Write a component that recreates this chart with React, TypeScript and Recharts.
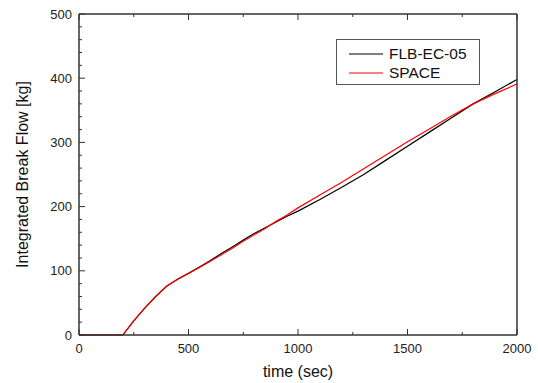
import React from 'react';
import { LineChart, Line, XAxis, YAxis, Legend, Label } from 'recharts';

const times = [0, 200, 250, 300, 350, 400, 450, 500, 550, 600, 650, 700, 750, 800, 850, 900, 950, 1000, 1100, 1200, 1300, 1400, 1500, 1600, 1700, 1800, 1900, 2000];
const flbEc05 = [0, 0, 22, 42, 60, 76, 87, 96, 106, 116, 127, 137, 148, 158, 167, 176, 185, 193, 211, 230, 250, 272, 294, 316, 338, 360, 379, 398];
const spaceSeries = [0, 0, 22, 42, 60, 76, 87, 96, 105, 115, 125, 135, 146, 156, 166, 177, 187, 198, 218, 238, 259, 280, 301, 321, 341, 360, 376, 391];

const xTicks = [0, 250, 500, 750, 1000, 1250, 1500, 1750, 2000];
const xMajor = 500;
const yTicks = [0, 20, 40, 60, 80, 100, 120, 140, 160, 180, 200, 220, 240, 260, 280, 300, 320, 340, 360, 380, 400, 420, 440, 460, 480, 500];
const yMajor = 100;

const seriesNames = ['FLB-EC-05', 'SPACE'];
const xTitle = 'time (sec)';
const yTitle = 'Integrated Break Flow [kg]';

const data = times.map((t, i) => ({ t, a: flbEc05[i], b: spaceSeries[i] }));

const FONT = '"Liberation Sans", Arial, sans-serif';
const AXIS = '#333';
const MAJ = 6;
const MIN = 3;

const renderBottomTick = (p: any) => {
  const { x, y, payload } = p;
  const major = payload.value % xMajor === 0;
  return (
    <g key={`b${payload.value}`}>
      <line x1={x} x2={x} y1={y} y2={y - (major ? MAJ : MIN)} stroke={AXIS} strokeWidth={1} />
      {major && (
        <text x={x} y={y + 18} textAnchor="middle" fontSize={13} fontFamily={FONT} fill="#222">
          {payload.value}
        </text>
      )}
    </g>
  );
};

const renderTopTick = (p: any) => {
  const { x, y, payload } = p;
  const major = payload.value % xMajor === 0;
  return (
    <line key={`t${payload.value}`} x1={x} x2={x} y1={y} y2={y + (major ? MAJ : MIN)} stroke={AXIS} strokeWidth={1} />
  );
};

const renderLeftTick = (p: any) => {
  const { x, y, payload } = p;
  const major = payload.value % yMajor === 0;
  return (
    <g key={`l${payload.value}`}>
      <line x1={x} x2={x + (major ? MAJ : MIN)} y1={y} y2={y} stroke={AXIS} strokeWidth={1} />
      {major && (
        <text x={x - 7} y={y + 4.5} textAnchor="end" fontSize={13} fontFamily={FONT} fill="#222">
          {payload.value}
        </text>
      )}
    </g>
  );
};

const renderRightTick = (p: any) => {
  const { x, y, payload } = p;
  const major = payload.value % yMajor === 0;
  return (
    <line key={`r${payload.value}`} x1={x} x2={x - (major ? MAJ : MIN)} y1={y} y2={y} stroke={AXIS} strokeWidth={1} />
  );
};

const LegendBox = (props: any) => {
  const { payload } = props;
  return (
    <div
      style={{
        width: 144,
        height: 46,
        boxSizing: 'border-box',
        border: '1px solid #555',
        background: '#fff',
        paddingTop: 4,
        fontFamily: FONT,
        fontSize: 15.5,
        color: '#111',
      }}
    >
      {(payload || []).map((e: any) => (
        <div key={e.value} style={{ display: 'flex', alignItems: 'center', height: 19, lineHeight: '19px' }}>
          <svg width={34} height={4} style={{ marginLeft: 12, marginRight: 6 }}>
            <line x1={0} x2={34} y1={2} y2={2} stroke={e.color} strokeWidth={1.2} />
          </svg>
          <span>{e.value}</span>
        </div>
      ))}
    </div>
  );
};

export default function App() {
  return (
    <div style={{ position: 'absolute', left: 0, top: 0, background: '#fff' }}>
      <LineChart width={538} height={383} data={data} margin={{ top: 13, right: 20, bottom: 0, left: 0 }}>
        <XAxis
          xAxisId="bottom"
          dataKey="t"
          type="number"
          domain={[0, 2000]}
          ticks={xTicks}
          interval={0}
          height={48}
          tickSize={0}
          tickMargin={0}
          tickLine={false}
          tick={renderBottomTick}
          axisLine={{ stroke: AXIS, strokeWidth: 1.5 }}
        >
          <Label
            content={(lp: any) => {
              const vb = lp.viewBox;
              return (
                <text x={vb.x + vb.width / 2} y={vb.y + 42} textAnchor="middle" fontSize={16} fontFamily={FONT} fill="#111">
                  {xTitle}
                </text>
              );
            }}
          />
        </XAxis>
        <XAxis
          xAxisId="top"
          orientation="top"
          dataKey="t"
          type="number"
          domain={[0, 2000]}
          ticks={xTicks}
          interval={0}
          height={1}
          tickSize={0}
          tickMargin={0}
          tickLine={false}
          tick={renderTopTick}
          axisLine={{ stroke: AXIS, strokeWidth: 1.5 }}
        />
        <YAxis
          yAxisId="left"
          type="number"
          domain={[0, 500]}
          ticks={yTicks}
          interval={0}
          width={79}
          tickSize={0}
          tickMargin={0}
          tickLine={false}
          tick={renderLeftTick}
          axisLine={{ stroke: AXIS, strokeWidth: 1.5 }}
        >
          <Label
            content={(lp: any) => {
              const vb = lp.viewBox;
              const cx = vb.x + 28;
              const cy = vb.y + vb.height / 2;
              return (
                <text
                  x={cx}
                  y={cy}
                  transform={`rotate(-90, ${cx}, ${cy})`}
                  textAnchor="middle"
                  fontSize={16}
                  fontFamily={FONT}
                  fill="#111"
                >
                  {yTitle}
                </text>
              );
            }}
          />
        </YAxis>
        <YAxis
          yAxisId="right"
          orientation="right"
          type="number"
          domain={[0, 500]}
          ticks={yTicks}
          interval={0}
          width={1}
          tickSize={0}
          tickMargin={0}
          tickLine={false}
          tick={renderRightTick}
          axisLine={{ stroke: AXIS, strokeWidth: 1.5 }}
        />
        <Legend
          layout="vertical"
          align="center"
          verticalAlign="middle"
          wrapperStyle={{ left: 336, top: 39, width: 144, height: 46 }}
          content={<LegendBox />}
        />
        <Line
          xAxisId="bottom"
          yAxisId="left"
          type="linear"
          dataKey="a"
          name={seriesNames[0]}
          stroke="#000"
          strokeWidth={1.2}
          dot={false}
          isAnimationActive={false}
        />
        <Line
          xAxisId="bottom"
          yAxisId="left"
          type="linear"
          dataKey="b"
          name={seriesNames[1]}
          stroke="#ff0000"
          strokeWidth={1.2}
          dot={false}
          isAnimationActive={false}
        />
      </LineChart>
    </div>
  );
}
